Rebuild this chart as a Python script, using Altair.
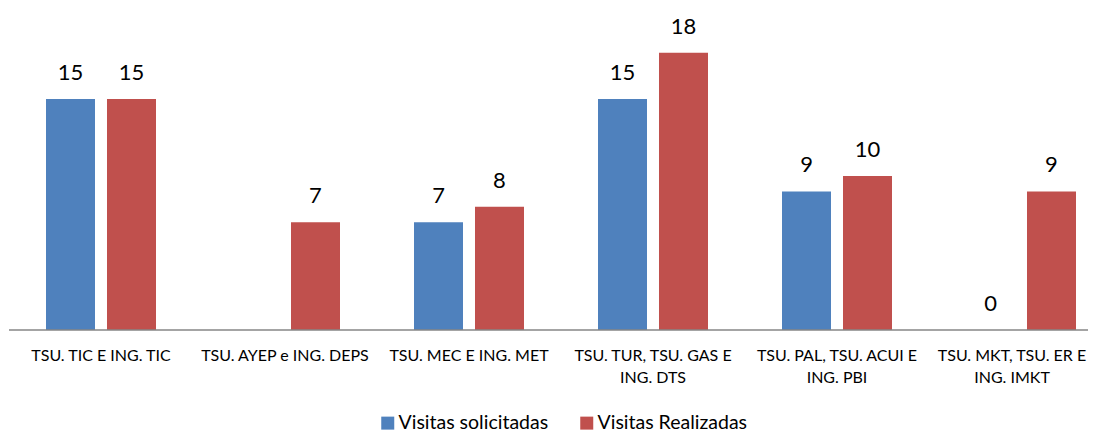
import altair as alt
import pandas as pd

categories = [
    "TSU. TIC E ING. TIC",
    "TSU. AYEP e ING. DEPS",
    "TSU. MEC E ING. MET",
    "TSU. TUR, TSU. GAS E ING. DTS",
    "TSU. PAL, TSU. ACUI E ING. PBI",
    "TSU. MKT, TSU. ER E ING. IMKT",
]
solicitadas = [15, None, 7, 15, 9, 0]
realizadas = [15, 7, 8, 18, 10, 9]
series_names = ["Visitas solicitadas", "Visitas Realizadas"]
series_colors = ["#4F81BD", "#C0504D"]

rows = []
for c, s, r in zip(categories, solicitadas, realizadas):
    rows.append({"cat": c, "serie": series_names[0], "value": s})
    rows.append({"cat": c, "serie": series_names[1], "value": r})
df = pd.DataFrame(rows)

FONT = "Lato"
W = 1079
H = 308

label_expr = (
    "indexof(datum.label, ', ') >= 0 ? "
    "[substring(datum.label, 0, indexof(datum.label, ' ING.')), "
    "substring(datum.label, indexof(datum.label, ' ING.') + 1)] : datum.label"
)

x = alt.X(
    "cat:N",
    sort=categories,
    scale=alt.Scale(range=[0, 1104], paddingInner=0, paddingOuter=0),
    axis=alt.Axis(
        title=None,
        ticks=False,
        tickSize=0,
        domain=False,
        labelAngle=0,
        labelFont=FONT,
        labelFontSize=16,
        labelColor="#000000",
        labelPadding=17,
        labelLineHeight=22,
        labelExpr=label_expr,
        labelLimit=300,
        labelOffset={
            "condition": {"test": f"datum.value === '{categories[-1]}'", "value": -9},
            "value": 0,
        },
        grid=False,
    ),
)
xoff = alt.XOffset(
    "serie:N",
    sort=series_names,
    scale=alt.Scale(paddingInner=0.1967, paddingOuter=0.6066),
)
y = alt.Y(
    "value:Q",
    scale=alt.Scale(domain=[0, 20], nice=False),
    axis=None,
)
color = alt.Color(
    "serie:N",
    sort=series_names,
    scale=alt.Scale(domain=series_names, range=series_colors),
    legend=alt.Legend(
        title=None,
        orient="none",
        legendX=369,
        legendY=391,
        direction="horizontal",
        symbolType="square",
        symbolSize=169,
        symbolStrokeWidth=0,
        labelFont=FONT,
        labelFontSize=19.5,
        labelColor="#000000",
        labelOffset=1,
        columnPadding=28,
        padding=0,
    ),
)

base = alt.Chart(df)
bars = base.mark_bar().encode(x=x, xOffset=xoff, y=y, color=color)
texts = base.transform_filter("isValid(datum.value)").mark_text(
    font=FONT, fontSize=22, baseline="alphabetic", dy=-19, color="#000000"
).encode(x=x, xOffset=xoff, y=y, text=alt.Text("value:Q"))
axis_line = (
    alt.Chart(pd.DataFrame({"a": [0]}))
    .mark_rule(color="#868686", strokeWidth=1.5)
    .encode(x=alt.value(0), x2=alt.value(W), y=alt.value(H))
)

chart = (
    alt.layer(bars, texts, axis_line)
    .properties(
        width=W,
        height=H,
        autosize=alt.AutoSizeParams(type="none"),
        padding={"left": 1, "top": 14, "right": 0, "bottom": 104},
    )
    .configure_view(strokeWidth=0)
)

chart.save("out.html", embed_options={"renderer": "svg", "actions": False})
